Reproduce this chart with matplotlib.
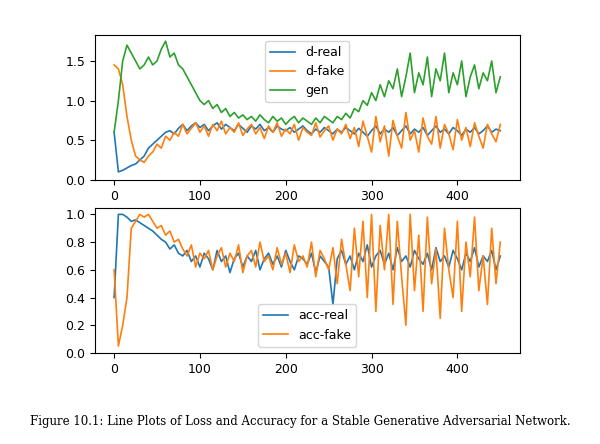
import matplotlib
matplotlib.use('Agg')
import matplotlib.pyplot as plt

epochs = list(range(0, 455, 5))

d_real = [0.60, 0.10, 0.12, 0.15, 0.18, 0.20, 0.25, 0.30, 0.40, 0.45, 0.50, 0.55, 0.60, 0.62, 0.58, 0.65,
          0.70, 0.62, 0.68, 0.72, 0.66, 0.70, 0.62, 0.68, 0.72, 0.64, 0.70, 0.66, 0.62, 0.70, 0.65, 0.60,
          0.68, 0.64, 0.70, 0.62, 0.66, 0.60, 0.68, 0.64, 0.62, 0.66, 0.60, 0.64, 0.68, 0.62, 0.58, 0.64,
          0.60, 0.66, 0.62, 0.58, 0.64, 0.60, 0.66, 0.62, 0.58, 0.65, 0.60, 0.55, 0.62, 0.68, 0.58, 0.64,
          0.60, 0.66, 0.56, 0.62, 0.68, 0.58, 0.64, 0.60, 0.66, 0.56, 0.62, 0.68, 0.60, 0.64, 0.58, 0.66,
          0.62, 0.56, 0.64, 0.60, 0.66, 0.58, 0.62, 0.68, 0.60, 0.64, 0.62]
d_fake = [1.45, 1.40, 1.20, 0.80, 0.50, 0.30, 0.25, 0.22, 0.30, 0.35, 0.45, 0.40, 0.55, 0.50, 0.60, 0.55,
          0.70, 0.58, 0.65, 0.72, 0.60, 0.68, 0.55, 0.70, 0.62, 0.74, 0.58, 0.66, 0.60, 0.72, 0.56, 0.64,
          0.70, 0.58, 0.66, 0.52, 0.68, 0.60, 0.72, 0.55, 0.64, 0.58, 0.70, 0.50, 0.66, 0.60, 0.56, 0.72,
          0.54, 0.62, 0.68, 0.50, 0.64, 0.58, 0.70, 0.52, 0.66, 0.42, 0.74, 0.55, 0.35, 0.80, 0.48, 0.68,
          0.30, 0.75, 0.55, 0.40, 0.85, 0.50, 0.62, 0.35, 0.78, 0.55, 0.45, 0.80, 0.40, 0.70, 0.58, 0.38,
          0.76, 0.50, 0.66, 0.42, 0.72, 0.55, 0.40, 0.70, 0.58, 0.48, 0.70]
gen = [0.60, 1.00, 1.50, 1.70, 1.60, 1.50, 1.40, 1.45, 1.55, 1.45, 1.50, 1.65, 1.75, 1.55, 1.60, 1.45,
       1.40, 1.30, 1.20, 1.10, 1.00, 0.95, 1.00, 0.90, 0.95, 0.85, 0.90, 0.80, 0.85, 0.78, 0.82, 0.76,
       0.80, 0.74, 0.82, 0.76, 0.72, 0.80, 0.74, 0.78, 0.70, 0.76, 0.80, 0.72, 0.78, 0.74, 0.70, 0.78,
       0.72, 0.80, 0.76, 0.72, 0.80, 0.76, 0.84, 0.78, 0.90, 0.86, 1.00, 0.94, 1.10, 1.00, 1.20, 1.05,
       1.25, 1.15, 1.40, 1.05, 1.30, 1.60, 1.10, 1.35, 1.20, 1.55, 1.05, 1.40, 1.25, 1.60, 1.10, 1.35,
       1.20, 1.50, 1.05, 1.30, 1.45, 1.15, 1.35, 1.25, 1.50, 1.10, 1.30]

acc_real = [0.40, 1.00, 1.00, 0.98, 0.95, 0.96, 0.94, 0.92, 0.90, 0.88, 0.85, 0.82, 0.80, 0.75, 0.78, 0.72,
            0.70, 0.74, 0.66, 0.70, 0.62, 0.72, 0.68, 0.60, 0.74, 0.66, 0.70, 0.58, 0.68, 0.72, 0.62, 0.70,
            0.66, 0.74, 0.60, 0.68, 0.72, 0.64, 0.70, 0.62, 0.74, 0.66, 0.60, 0.70, 0.68, 0.64, 0.72, 0.58,
            0.70, 0.66, 0.62, 0.35, 0.68, 0.74, 0.64, 0.70, 0.60, 0.72, 0.66, 0.78, 0.62, 0.70, 0.74, 0.64,
            0.72, 0.60, 0.76, 0.66, 0.70, 0.62, 0.74, 0.68, 0.64, 0.72, 0.60, 0.76, 0.66, 0.70, 0.62, 0.74,
            0.68, 0.60, 0.72, 0.66, 0.76, 0.62, 0.70, 0.66, 0.74, 0.60, 0.70]
acc_fake = [0.60, 0.05, 0.20, 0.40, 0.90, 0.95, 1.00, 0.98, 1.00, 0.95, 0.90, 0.92, 0.85, 0.88, 0.80, 0.82,
            0.75, 0.70, 0.78, 0.62, 0.72, 0.68, 0.74, 0.60, 0.70, 0.76, 0.62, 0.72, 0.66, 0.78, 0.58, 0.70,
            0.74, 0.62, 0.80, 0.66, 0.70, 0.60, 0.76, 0.64, 0.72, 0.58, 0.78, 0.66, 0.70, 0.62, 0.80, 0.55,
            0.74, 0.68, 0.60, 0.76, 0.50, 0.82, 0.64, 0.45, 0.90, 0.55, 0.95, 0.40, 1.00, 0.30, 0.92, 0.60,
            1.00, 0.35, 0.95, 0.55, 0.20, 1.00, 0.45, 0.85, 0.30, 0.98, 0.50, 0.75, 0.25, 0.90, 0.60, 0.40,
            0.95, 0.30, 0.80, 0.55, 0.98, 0.45, 0.70, 0.35, 0.90, 0.50, 0.80]

fig = plt.figure(figsize=(6.0, 4.44), dpi=100)
ax1 = fig.add_axes([0.158, 0.595, 0.708, 0.327])
ax2 = fig.add_axes([0.158, 0.205, 0.708, 0.327])

ax1.plot(epochs, d_real, color='#1f77b4', lw=1.2, label='d-real')
ax1.plot(epochs, d_fake, color='#ff7f0e', lw=1.2, label='d-fake')
ax1.plot(epochs, gen, color='#2ca02c', lw=1.2, label='gen')
ax1.set_yticks([0.0, 0.5, 1.0, 1.5])
ax1.legend(loc='upper center', fontsize=9)

ax2.plot(epochs, acc_real, color='#1f77b4', lw=1.2, label='acc-real')
ax2.plot(epochs, acc_fake, color='#ff7f0e', lw=1.2, label='acc-fake')
ax2.set_yticks([0.0, 0.2, 0.4, 0.6, 0.8, 1.0])
ax2.legend(loc='lower center', fontsize=9)

for ax in (ax1, ax2):
    ax.set_xticks([0, 100, 200, 300, 400])
    ax.tick_params(labelsize=9)

fig.text(0.5, 0.05, 'Figure 10.1: Line Plots of Loss and Accuracy for a Stable Generative Adversarial Network.',
         ha='center', va='center', fontsize=8.5, family='DejaVu Serif')

plt.savefig('out.png', dpi=100)
